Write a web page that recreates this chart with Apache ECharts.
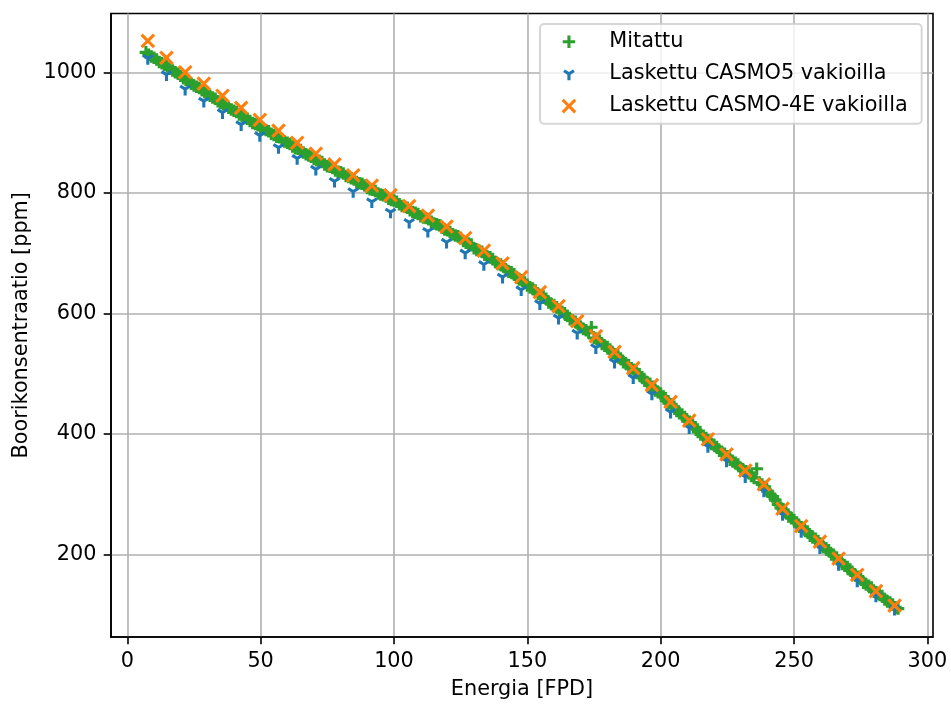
<!DOCTYPE html>
<html>
<head>
<meta charset="utf-8">
<script src="https://cdn.jsdelivr.net/npm/echarts@6/dist/echarts.min.js"></script>
<style>
html,body{margin:0;padding:0;background:#fff;}
#c{width:951px;height:705px;}
</style>
</head>
<body>
<div id="c"></div>
<script>
// ---- data ----
const xTicks = [0, 50, 100, 150, 200, 250, 300];
const yTicks = [200, 400, 600, 800, 1000];

const xCalc = [7.7,14.7,21.7,28.7,35.7,42.7,49.7,56.7,63.7,70.7,
  77.7,84.7,91.7,98.7,105.7,112.7,119.7,126.7,133.7,140.7,
  147.7,154.7,161.7,168.7,175.7,182.7,189.7,196.7,203.7,210.7,
  217.7,224.7,231.7,238.7,245.7,252.7,259.7,266.7,273.7,280.7,287.7];
const casmo5 = [1023,996,972,952,933,913,895,875,857,839,
  819,802,785,768,751,736,718,700,681,660,
  639,616,592,567,543,519,493,466,436,410,
  379,355,329,305,266,238,211,183,156,131,109];
const casmo4e = [1052,1024,1000,981,961,941,921,903,883,865,
  847,829,812,796,778,762,744,725,704,683,
  660,635,612,587,562,536,509,481,453,422,
  391,366,339,316,276,247,221,193,166,139,115];

const xMeas = [7,8,9,10,11,12,13,14,15,16,
  17,18,19,20,21,22,23,24,25,26,
  27,28,29,30,31,32,33,34,35,36,
  37,38,39,40,41,42,43,44,45,46,
  47,48,49,50,51,52,53,54,55,56,
  57,58,59,60,61,62,63,64,65,66,
  67,68,69,70,71,72,73,74,75,76,
  77,78,79,80,81,82,83,84,85,86,
  87,88,89,90,91,92,93,94,95,96,
  97,98,99,100,101,102,103,104,105,106,
  107,108,109,110,111,112,113,114,115,116,
  117,118,119,120,121,122,123,124,125,126,
  127,128,129,130,131,132,133,134,135,136,
  137,138,139,140,141,142,143,144,145,146,
  147,148,149,150,151,152,153,154,155,156,
  157,158,159,160,161,162,163,164,165,166,
  167,168,169,170,171,172,173,174,175,176,
  177,178,179,180,181,182,183,184,185,186,
  187,188,189,190,191,192,193,194,195,196,
  197,198,199,200,201,202,203,204,205,206,
  207,208,209,210,211,212,213,214,215,216,
  217,218,219,220,221,222,223,224,225,226,
  227,228,229,230,231,232,233,234,235,236,
  237,238,239,240,241,242,243,244,245,246,
  247,248,249,250,251,252,253,254,255,256,
  257,258,259,260,261,262,263,264,265,266,
  267,268,269,270,271,272,273,274,275,276,
  277,278,279,280,281,282,283,284,285,286,
  287,288,289];
const measured = [1033,1029,1026,1024,1021,1017,1015,1012,1010,1006,
  1003,1000,998,994,990,987,986,981,978,976,
  974,970,967,964,961,958,956,952,949,947,
  945,941,938,936,934,930,927,925,923,919,
  916,914,912,908,906,904,902,898,896,893,
  892,888,885,883,881,877,874,873,871,867,
  864,862,860,856,854,853,851,847,844,843,
  841,837,835,834,832,828,826,824,822,818,
  816,815,812,808,806,805,803,799,797,796,
  794,790,788,787,785,781,778,777,775,771,
  768,767,765,761,759,758,756,752,749,748,
  746,742,739,738,735,731,729,728,725,720,
  717,716,714,708,705,704,702,697,694,693,
  690,685,682,681,678,672,669,668,665,659,
  656,655,651,646,643,641,638,632,629,628,
  624,618,615,614,610,604,602,600,596,590,
  588,586,582,577,574,572,568,577,559,558,
  555,549,546,544,540,534,531,529,525,519,
  516,514,509,504,501,499,494,488,485,483,
  478,472,469,467,462,455,451,449,445,438,
  434,432,428,421,417,415,411,403,399,397,
  393,386,383,382,378,372,369,367,363,357,
  354,352,349,343,339,338,335,330,327,342,
  319,316,312,305,300,296,290,283,277,274,
  269,263,260,257,253,246,243,241,238,231,
  228,226,222,215,212,210,207,200,197,195,
  190,184,181,179,175,168,165,163,159,153,
  150,148,145,138,135,134,131,125,122,120,
  117,112,110];

// ---- marker shapes (matplotlib '+', '1', 'x'), padded to a common square box ----
const PAD = 'M-7.35,-7.35M7.35,7.35';
const plusPath = 'path://' + PAD + 'M-1.55,-6.25L1.55,-6.25L1.55,-1.55L6.25,-1.55L6.25,1.55L1.55,1.55L1.55,6.25L-1.55,6.25L-1.55,1.55L-6.25,1.55L-6.25,-1.55L-1.55,-1.55Z';
const xPath = 'path://' + PAD + 'M5.15,7.35L7.35,5.15L2.19,0L7.35,-5.15L5.15,-7.35L0,-2.19L-5.15,-7.35L-7.35,-5.15L-2.19,0L-7.35,5.15L-5.15,7.35L0,2.19Z';
const triPath = 'path://' + PAD + 'M0,-1.82L4.18,-4.44L5.82,-1.81L1.55,0.854L1.55,6.25L-1.55,6.25L-1.55,0.854L-5.82,-1.81L-4.18,-4.44Z';

const zip = (xs, ys) => xs.map((x, i) => [x, ys[i]]);

const FONT = 'DejaVu Sans';
const FS = 20.8;

const chart = echarts.init(document.getElementById('c'), null, {renderer: 'canvas'});
chart.setOption({
  animation: false,
  backgroundColor: '#fff',
  textStyle: {fontFamily: FONT},
  grid: {left: 111, right: 18, top: 13.5, bottom: 67.3, show: true, borderColor: '#000', borderWidth: 1.6, backgroundColor: 'transparent'},
  legend: {
    orient: 'vertical', left: 540, top: 24,
    padding: [7.2, 14, 7.2, 21.6],
    itemWidth: 14.7, itemHeight: 14.7, itemGap: 11.2,
    selectedMode: false,
    backgroundColor: 'rgba(255,255,255,0.8)',
    borderColor: 'rgba(204,204,204,0.8)', borderWidth: 2, borderRadius: 4,
    textStyle: {fontFamily: FONT, fontSize: FS, color: '#000', lineHeight: 21, padding: [0, 0, 0, 28]},
    data: [
      {name: 'Mitattu', icon: plusPath},
      {name: 'Laskettu CASMO5 vakioilla', icon: triPath},
      {name: 'Laskettu CASMO-4E vakioilla', icon: xPath}
    ]
  },
  xAxis: {
    type: 'value', min: -6.1, max: 302.1,
    name: 'Energia [FPD]', nameLocation: 'middle', nameGap: 42,
    nameTextStyle: {fontFamily: FONT, fontSize: FS, color: '#000'},
    axisLine: {show: true, onZero: false, lineStyle: {color: '#000', width: 1.6}},
    axisTick: {show: true, length: 7.3, lineStyle: {color: '#000', width: 1.6}, customValues: xTicks},
    axisLabel: {customValues: xTicks, fontFamily: FONT, fontSize: FS, color: '#000', margin: 14.6,
      formatter: v => String(v)},
    splitLine: {show: true, lineStyle: {color: '#b0b0b0', width: 1.6}}
  },
  yAxis: {
    type: 'value', min: 62.9, max: 1097.5,
    name: 'Boorikonsentraatio [ppm]', nameLocation: 'middle', nameGap: 78,
    nameTextStyle: {fontFamily: FONT, fontSize: FS, color: '#000'},
    axisLine: {show: true, onZero: false, lineStyle: {color: '#000', width: 1.6}},
    axisTick: {show: true, length: 7.3, lineStyle: {color: '#000', width: 1.6}, customValues: yTicks},
    axisLabel: {customValues: yTicks, fontFamily: FONT, fontSize: FS, color: '#000', margin: 14.6,
      formatter: v => String(v)},
    splitLine: {show: true, lineStyle: {color: '#b0b0b0', width: 1.6}}
  },
  series: [
    {name: 'Mitattu', type: 'scatter', z: 2, symbol: plusPath, symbolSize: 14.7,
     itemStyle: {color: '#2ca02c', opacity: 1}, emphasis: {disabled: true},
     data: zip(xMeas, measured)},
    {name: 'Laskettu CASMO5 vakioilla', type: 'scatter', z: 3, symbol: triPath, symbolSize: 14.7,
     itemStyle: {color: '#1f77b4', opacity: 1}, emphasis: {disabled: true},
     data: zip(xCalc, casmo5)},
    {name: 'Laskettu CASMO-4E vakioilla', type: 'scatter', z: 4, symbol: xPath, symbolSize: 14.7,
     itemStyle: {color: '#ff7f0e', opacity: 1}, emphasis: {disabled: true},
     data: zip(xCalc, casmo4e)}
  ]
});
</script>
</body>
</html>
